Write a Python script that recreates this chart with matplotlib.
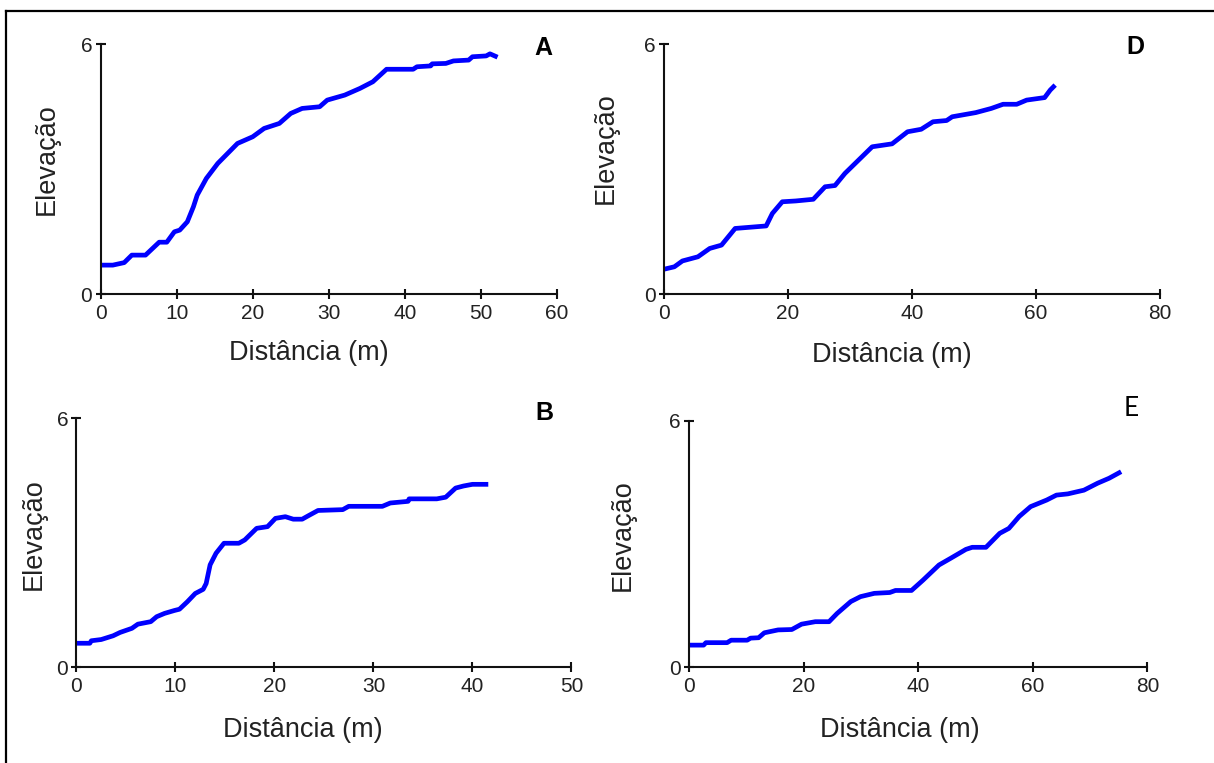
import numpy as np
import matplotlib
matplotlib.use('Agg')
import matplotlib.pyplot as plt
from matplotlib.lines import Line2D

plt.rcParams['font.family'] = ['Liberation Sans', 'DejaVu Sans']

# Elevation profiles (distance in m, elevation)
dist_a = [0, 1.6, 3.1, 4.1, 5.9, 7.7, 8.7, 9.7, 10.4, 11.4, 12.2, 12.7, 13.9, 15.4,
          18.0, 20.0, 21.5, 23.5, 25.0, 26.5, 28.8, 29.8, 32.1, 34.1, 35.8, 37.6,
          41.1, 41.6, 43.4, 43.6, 45.4, 46.4, 48.4, 48.9, 50.7, 51.2, 52.2]
elev_a = [0.70, 0.70, 0.76, 0.94, 0.94, 1.25, 1.25, 1.50, 1.54, 1.74, 2.10, 2.38, 2.78, 3.14,
          3.62, 3.78, 3.98, 4.10, 4.34, 4.46, 4.50, 4.66, 4.78, 4.94, 5.10, 5.40,
          5.40, 5.46, 5.48, 5.53, 5.54, 5.60, 5.62, 5.70, 5.72, 5.77, 5.69]

dist_d = [0, 1.7, 3.0, 5.5, 7.4, 9.3, 11.5, 16.5, 17.5, 19.1, 21.3, 24.1, 26.0, 27.6,
          29.2, 33.6, 36.8, 39.3, 41.5, 43.4, 45.6, 46.5, 50.3, 52.8, 54.7, 56.9,
          58.5, 61.4, 62.3, 63.1]
elev_d = [0.60, 0.66, 0.80, 0.90, 1.10, 1.18, 1.58, 1.64, 1.94, 2.22, 2.24, 2.28, 2.58, 2.61,
          2.90, 3.54, 3.61, 3.90, 3.96, 4.14, 4.17, 4.26, 4.36, 4.46, 4.56, 4.56,
          4.66, 4.72, 4.90, 5.02]

dist_b = [0, 1.35, 1.5, 2.5, 3.7, 4.4, 5.6, 6.2, 7.5, 8.1, 8.9, 9.9, 10.4, 11.2, 12.0,
          12.8, 13.1, 13.5, 14.1, 14.9, 16.4, 17.0, 18.2, 19.3, 20.1, 21.1, 21.9, 22.8,
          23.4, 24.4, 26.9, 27.5, 30.9, 31.7, 33.5, 33.6, 36.4, 37.3, 38.3, 39.1, 40.0, 41.6]
elev_b = [0.58, 0.58, 0.64, 0.67, 0.76, 0.84, 0.94, 1.04, 1.10, 1.22, 1.30, 1.37, 1.40, 1.58, 1.78,
          1.88, 2.02, 2.47, 2.75, 2.99, 2.99, 3.07, 3.35, 3.39, 3.59, 3.63, 3.57, 3.57,
          3.65, 3.78, 3.80, 3.88, 3.88, 3.96, 4.00, 4.06, 4.06, 4.10, 4.32, 4.37, 4.41, 4.41]

dist_e = [0, 2.5, 2.9, 6.6, 7.3, 10.1, 10.7, 12.1, 13.1, 15.5, 17.9, 19.6, 22.0, 24.4,
          25.8, 28.2, 29.9, 32.3, 35.0, 36.0, 38.8, 40.8, 43.6, 45.6, 48.3, 49.4, 51.8,
          54.2, 55.8, 57.6, 59.6, 62.4, 64.1, 66.1, 68.9, 71.3, 73.3, 75.4]
elev_e = [0.54, 0.54, 0.60, 0.60, 0.66, 0.66, 0.71, 0.72, 0.84, 0.91, 0.92, 1.05, 1.11, 1.11,
          1.31, 1.60, 1.72, 1.80, 1.82, 1.87, 1.87, 2.12, 2.49, 2.65, 2.87, 2.92, 2.92,
          3.26, 3.38, 3.67, 3.91, 4.07, 4.19, 4.22, 4.31, 4.48, 4.60, 4.76]

letters = ['A', 'D', 'B', 'E']
x_max = [60, 80, 50, 80]
x_step = [10, 20, 10, 20]
profiles = [(dist_a, elev_a), (dist_d, elev_d), (dist_b, elev_b), (dist_e, elev_e)]

# axes boxes and label placement (axes fractions)
boxes = [[0.0829, 0.6143, 0.3758, 0.3277],
         [0.5468, 0.6143, 0.4087, 0.3277],
         [0.0630, 0.1254, 0.4077, 0.3263],
         [0.5678, 0.1254, 0.3774, 0.3232]]
xlabel_pos = [(0.457, -0.236), (0.459, -0.243), (0.458, -0.252), (0.459, -0.254)]
ylabel_pos = [(-0.118, 0.541), (-0.1165, 0.585), (-0.0873, 0.535), (-0.146, 0.536)]
letter_pos = [(0.4476, 0.9367), (0.9349, 0.9388), (0.4483, 0.4583), (0.9319, 0.4649)]

text_col = '#222222'

fig = plt.figure(figsize=(12.14, 7.63), dpi=100)

for i in range(4):
    ax = fig.add_axes(boxes[i])
    d, e = profiles[i]
    ax.plot(d, e, color='#0000ff', lw=3.4, solid_joinstyle='round',
            solid_capstyle='butt', clip_on=False)
    ax.set_xlim(0, x_max[i])
    ax.set_ylim(0, 6)
    ax.set_xticks(np.arange(0, x_max[i] + 1, x_step[i]))
    ax.set_yticks([0, 6])
    for s in ['top', 'right']:
        ax.spines[s].set_visible(False)
    for s in ['left', 'bottom']:
        ax.spines[s].set_linewidth(1.5)
        ax.spines[s].set_color('#111111')
    ax.tick_params(direction='inout', length=7, width=1.5, color='#111111',
                   labelsize=15, labelcolor=text_col)
    ax.tick_params(axis='x', pad=3.5)
    ax.tick_params(axis='y', pad=2.5)
    ax.patch.set_alpha(0)

    ax.text(xlabel_pos[i][0], xlabel_pos[i][1], 'Distância (m)', transform=ax.transAxes,
            ha='center', va='center', fontsize=19.5, color=text_col)
    ax.text(ylabel_pos[i][0], ylabel_pos[i][1], 'Elevação', transform=ax.transAxes,
            ha='center', va='center', rotation=90, fontsize=19.5, color=text_col)

    if letters[i] == 'E':
        fig.text(letter_pos[i][0], letter_pos[i][1], letters[i], ha='center', va='center',
                 fontsize=19, family=['Lato', 'DejaVu Sans'], color='black')
    else:
        fig.text(letter_pos[i][0], letter_pos[i][1], letters[i], ha='center', va='center',
                 fontsize=18, fontweight='bold', color='black')

# frame lines along the top and left edges
fig.add_artist(Line2D([6 / 1214, 1.0], [1 - 11 / 763, 1 - 11 / 763], color='black', lw=1.6))
fig.add_artist(Line2D([6 / 1214, 6 / 1214], [0.0, 1 - 11 / 763], color='black', lw=1.6))

fig.savefig('out.png', dpi=100)
